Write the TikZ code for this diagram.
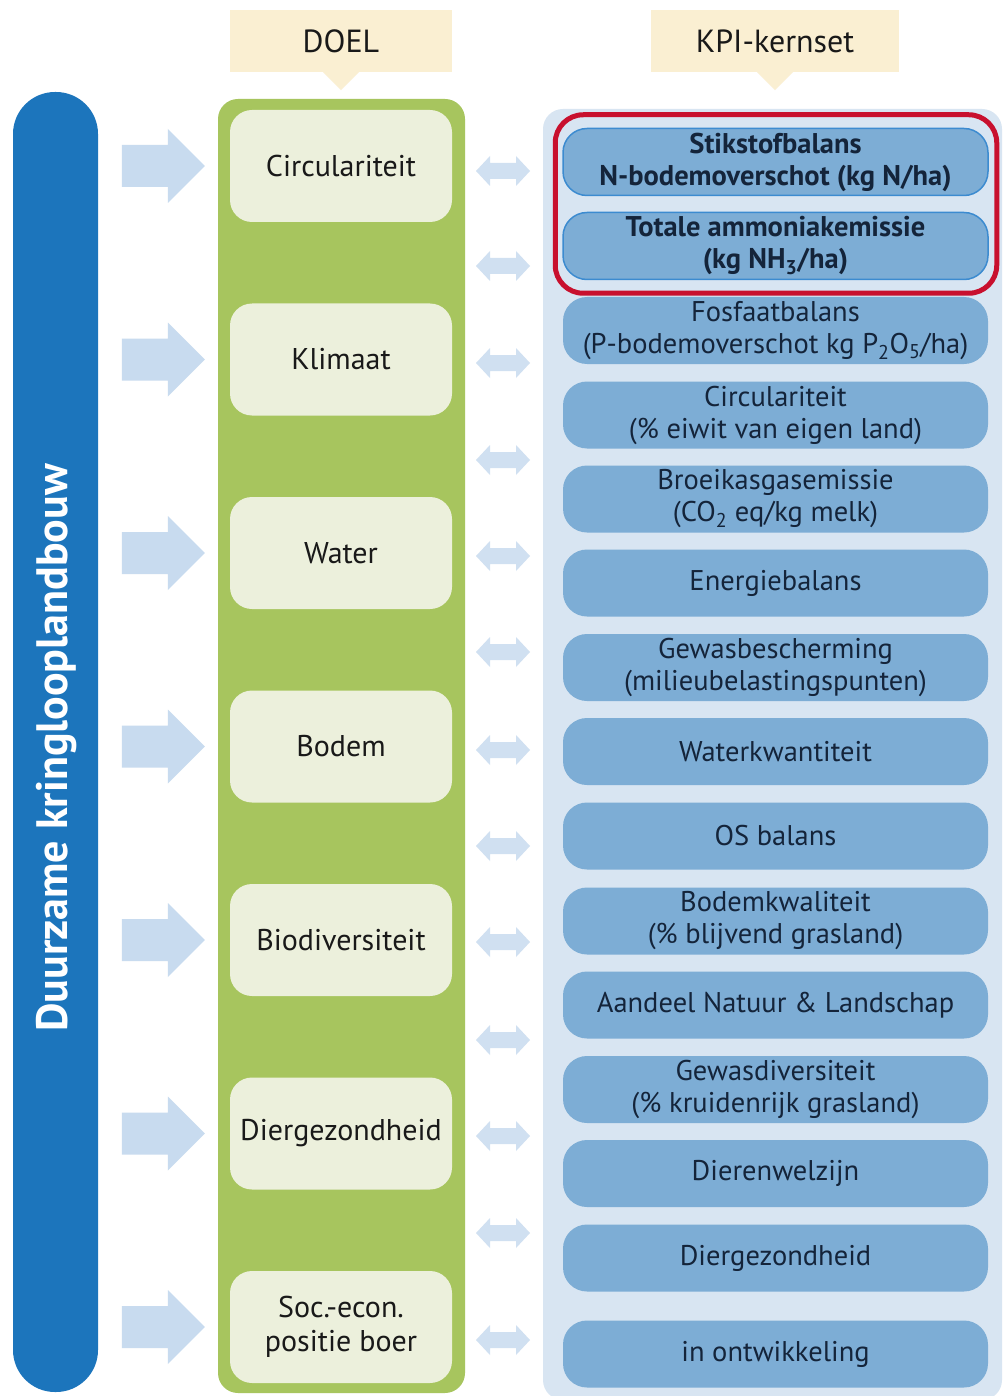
\documentclass[tikz,border=0pt]{standalone}
\usepackage{fontspec}
\setmainfont{PT Sans}
\usepackage{xcolor}
\usepackage{tikz}
\usetikzlibrary{calc}
\definecolor{barblue}{HTML}{1C75BC}
\definecolor{greenpanel}{HTML}{A7C55E}
\definecolor{goalbg}{HTML}{ECF0DC}
\definecolor{headbg}{HTML}{FAEFD2}
\definecolor{panelbg}{HTML}{D8E5F2}
\definecolor{kpiblue}{HTML}{7DADD5}
\definecolor{kpiline}{HTML}{3C8BD0}
\definecolor{arrowblue}{HTML}{C8DBEF}
\definecolor{keyred}{HTML}{C8102E}
\definecolor{kpitext}{HTML}{14243A}
\newcommand{\sub}[1]{\textsubscript{#1}}
\newcommand{\txt}{\fontsize{28.5}{32}\selectfont}

\begin{document}
\begin{tikzpicture}[x=1pt, y=-1pt,
  every node/.style={font=\txt, align=center, inner sep=0pt},
  header/.style={fill=headbg, minimum width=222pt, minimum height=62pt, text=black!90, font=\fontsize{32}{36}\selectfont},
  goal/.style={fill=goalbg, rounded corners=22pt, minimum width=222pt, minimum height=112pt, text=black!90, font=\fontsize{30}{34}\selectfont},
  kpi/.style={fill=kpiblue, rounded corners=24pt, minimum width=425pt, minimum height=67pt, text=kpitext},
  kpikey/.style={kpi, draw=kpiline, line width=1.5pt, font=\bfseries\txt},
  bigarrow/.style={fill=arrowblue},
  dblarrow/.style={fill=arrowblue!85}]
  \useasboundingbox (0,0) rectangle (1004,1396);
  \fill[white] (0,0) rectangle (1004,1396);

  \fill[barblue, rounded corners=42pt] (13,92) rectangle (98,1392);
  \node[rotate=90, text=white, font=\bfseries\fontsize{44}{48}\selectfont] (title) at (57,748) {Duurzame kringlooplandbouw};

  \node[header] (doel) at (341,41) {DOEL};
  \node[header, minimum width=248pt] (kern) at (775,41) {KPI-kernset};
  \fill[headbg] ($(doel.south)+(-18,0)$) -- ($(doel.south)+(18,0)$) -- ($(doel.south)+(0,18)$) -- cycle;
  \fill[headbg] ($(kern.south)+(-18,0)$) -- ($(kern.south)+(18,0)$) -- ($(kern.south)+(0,18)$) -- cycle;

  \fill[greenpanel, rounded corners=20pt] (218,99) rectangle (465,1393);
  \fill[panelbg, rounded corners=20pt] (543,109) rectangle (1002,1400);

  \node[goal] (g1) at (341,166) {Circulariteit};
  \node[goal] (g2) at (341,359.5) {Klimaat};
  \node[goal] (g3) at (341,553) {Water};
  \node[goal] (g4) at (341,746.5) {Bodem};
  \node[goal] (g5) at (341,940) {Biodiversiteit};
  \node[goal] (g6) at (341,1133.5) {Diergezondheid};
  \node[goal] (g7) at (341,1327) {Soc.-econ.\\positie boer};

  \foreach \i in {1,...,7}
    \fill[bigarrow] ($(g\i.west)+(-25,0)$) -- ++(-37,-37) -- ++(0,16) -- ++(-46,0) -- ++(0,42) -- ++(46,0) -- ++(0,16) -- cycle;

  \foreach \y in {171,266,363,460,556,652,750,846,942,1040,1136,1233,1340}
    \fill[dblarrow] (476,\y) -- ++(14,-15) -- ++(0,7) -- ++(26,0) -- ++(0,-7) -- ++(14,15) -- ++(-14,15) -- ++(0,-7) -- ++(-26,0) -- ++(0,7) -- cycle;

  \node[kpikey] (k1) at (775.5,162) {Stikstofbalans\\N-bodemoverschot (kg N/ha)};
  \node[kpikey] (k2) at (775.5,246) {Totale ammoniakemissie\\(kg NH\sub{3}/ha)};
  \node[kpi] (k3) at (775.5,330.5) {Fosfaatbalans\\(P-bodemoverschot kg P\sub{2}O\sub{5}/ha)};
  \node[kpi] (k4) at (775.5,415) {Circulariteit\\(\% eiwit van eigen land)};
  \node[kpi] (k5) at (775.5,499) {Broeikasgasemissie\\(CO\sub{2} eq/kg melk)};
  \node[kpi] (k6) at (775.5,583) {Energiebalans};
  \node[kpi] (k7) at (775.5,667.5) {Gewasbescherming\\(milieubelastingspunten)};
  \node[kpi] (k8) at (775.5,751.5) {Waterkwantiteit};
  \node[kpi] (k9) at (775.5,836) {OS balans};
  \node[kpi] (k10) at (775.5,921) {Bodemkwaliteit\\(\% blijvend grasland)};
  \node[kpi] (k11) at (775.5,1005) {Aandeel Natuur \& Landschap};
  \node[kpi] (k12) at (775.5,1089.5) {Gewasdiversiteit\\(\% kruidenrijk grasland)};
  \node[kpi] (k13) at (775.5,1173.5) {Dierenwelzijn};
  \node[kpi] (k14) at (775.5,1258) {Diergezondheid};
  \node[kpi] (k15) at (775.5,1354) {in ontwikkeling};

  \draw[keyred, line width=5pt, rounded corners=28pt] ($(k1.north west)+(-7,-13)$) rectangle ($(k2.south east)+(8,13)$);
\end{tikzpicture}
\end{document}
